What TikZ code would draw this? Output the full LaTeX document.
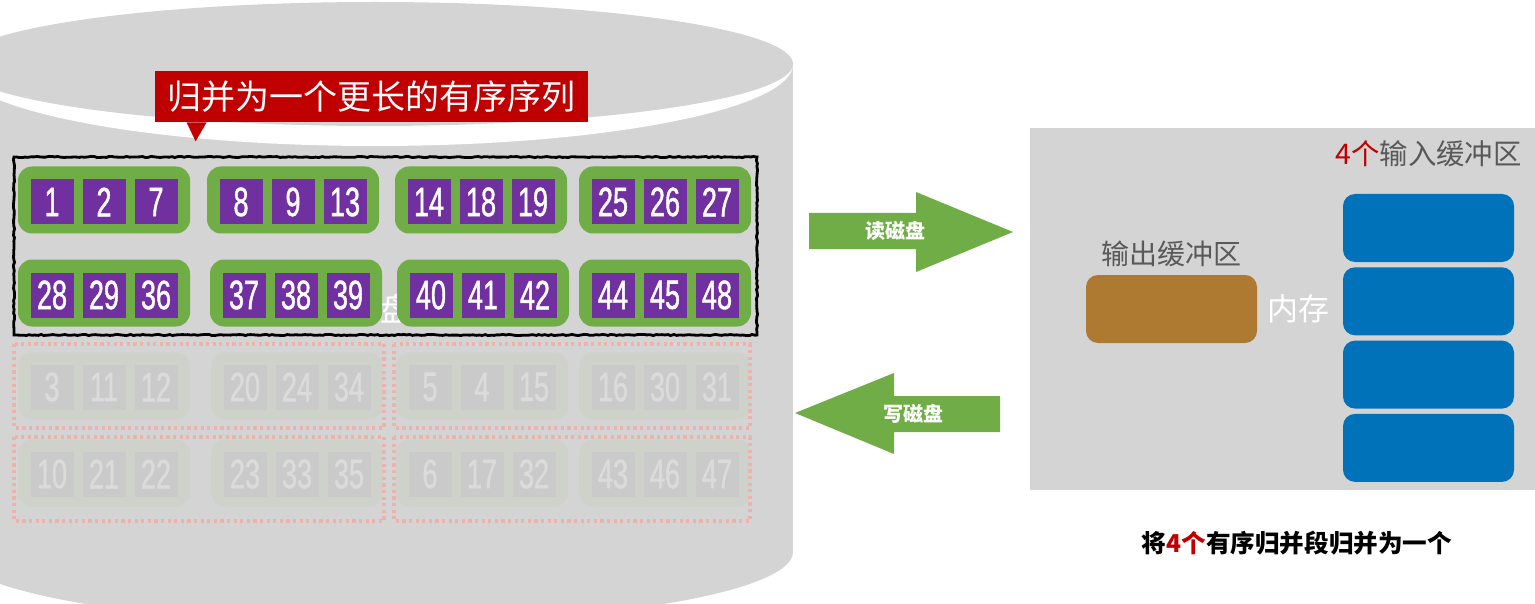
\documentclass[tikz,border=0pt]{standalone}
\usepackage{fontspec}
\setmainfont{Noto Sans CJK SC}
\newfontfamily\numfont[FakeStretch=0.66,FakeBold=1]{Liberation Sans}
\usetikzlibrary{positioning,decorations.pathmorphing}
\definecolor{diskgray}{HTML}{D4D4D4}
\definecolor{rungreen}{HTML}{70AD47}
\definecolor{keypurple}{HTML}{7030A0}
\definecolor{mergered}{HTML}{C00000}
\definecolor{inblue}{HTML}{0072BA}
\definecolor{outbrown}{HTML}{AE7A31}
\definecolor{hintgray}{HTML}{595959}
\definecolor{fadegreen}{HTML}{CFD2CB}
\definecolor{fadebox}{HTML}{CACACA}
\definecolor{fadetext}{HTML}{DBDBDB}
\definecolor{tapepink}{HTML}{ECB3AC}
\tikzset{
  run/.style={fill=rungreen, rounded corners=7pt, minimum width=86pt, minimum height=33.5pt, inner sep=0pt},
  key/.style={fill=keypurple, text=white, minimum width=21.5pt, minimum height=22.5pt, inner sep=0pt, font=\numfont\fontsize{20.5}{20.5}\selectfont},
  oldrun/.style={run, fill=fadegreen},
  oldkey/.style={key, fill=fadebox, text=fadetext},
  tape/.style={draw=tapepink, line width=1.6pt, dash pattern=on 1.6pt off 1.7pt},
  buf/.style={rounded corners=6pt, minimum width=85.5pt, minimum height=34pt, inner sep=0pt},
  hint/.style={text=hintgray, inner sep=0pt},
  ioarrow/.style={fill=rungreen},
  iolabel/.style={text=white, inner sep=0pt, font=\bfseries\fontsize{10}{10}\selectfont},
}

\begin{document}
\begin{tikzpicture}[x=0.5pt,y=-0.5pt]
\clip (0,0) rectangle (1535,604);

% disk
\fill[diskgray] (-43,64) rectangle (793,552);
\fill[diskgray] (375,552) ellipse [x radius=418, y radius=72];
\fill[white] (793,64) arc [start angle=0, end angle=180, x radius=418, y radius=82] -- cycle;
\fill[diskgray] (375,64) ellipse [x radius=418, y radius=62];

% callout
\node[fill=mergered, text=white, minimum width=216.5pt, minimum height=25.5pt, inner sep=0pt,
      font=\fontsize{17}{17}\selectfont] (merge) at (371.5,96.5) {归并为一个更长的有序序列};
\fill[mergered] ([xshift=16pt]merge.south west) -- ([xshift=26pt]merge.south west)
   -- ([xshift=20.5pt,yshift=-9.5pt]merge.south west) -- cycle;

\node[text=white, inner sep=0pt, font=\fontsize{16}{16}\selectfont] (disklbl) at (380,309) {磁盘};

% merged runs
\draw[black, line width=1.4pt, decorate, decoration={random steps, segment length=1.5pt, amplitude=0.3pt}]
  (14,157) rectangle (757,335);
\foreach \gx/\gy/\a/\b/\c [count=\i] in {104/200/1/2/7, 293/200/8/9/13, 481/200/14/18/19, 665/200/25/26/27,
    104/293/28/29/36, 296/293/37/38/39, 483/293/40/41/42, 665/293/44/45/48}{
  \node[run] (run\i) at (\gx,\gy) {};
  \node[key] (run\i a) at (\gx-52,\gy+2) {\a};
  \node[key] (run\i b) at (\gx,\gy+2) {\b};
  \node[key] (run\i c) at (\gx+52,\gy+2) {\c};
}

% runs still on disk
\foreach \gx/\gy/\a/\b/\c [count=\i] in {104/386/3/11/12, 297/386/20/24/34, 482/386/5/4/15, 665/386/16/30/31,
    104/473/10/21/22, 297/473/23/33/35, 482/473/6/17/32, 665/473/43/46/47}{
  \node[oldrun] (old\i) at (\gx,\gy) {};
  \node[oldkey] (old\i a) at (\gx-52,\gy+1) {\a};
  \node[oldkey] (old\i b) at (\gx,\gy+1) {\b};
  \node[oldkey] (old\i c) at (\gx+52,\gy+1) {\c};
}
\draw[tape] (14,344) rectangle (384,428);
\draw[tape] (394,344) rectangle (750,428);
\draw[tape] (14,437) rectangle (384,521);
\draw[tape] (394,437) rectangle (750,521);

% read / write
\fill[ioarrow] (809,213) -- (916,213) -- (916,192) -- (1013,232) -- (916,272) -- (916,249) -- (809,249) -- cycle;
\node[iolabel] (readlbl) at (895,231) {读磁盘};
\fill[ioarrow] (1000,396) -- (894,396) -- (894,373) -- (795,413) -- (894,454) -- (894,432) -- (1000,432) -- cycle;
\node[iolabel] (writelbl) at (913,414) {写磁盘};

% memory
\fill[diskgray] (1030,128) rectangle (1535,490);
\node[buf, fill=outbrown] (outbuf) at (1171.5,309) {};
\node[hint, above=3.5pt of outbuf, font=\fontsize{14}{14}\selectfont] (outlbl) {输出缓冲区};
\node[text=white, inner sep=0pt, right=5pt of outbuf, font=\fontsize{15.5}{15.5}\selectfont] (memlbl) {内存};
\foreach \k in {1,...,4}
  \node[buf, fill=inblue] (in\k) at (1428.5,154.7+73.3*\k) {};
\node[hint, above=13pt of in1, font=\fontsize{14.2}{14.2}\selectfont] (inlbl) {\textcolor{mergered}{4个}输入缓冲区};

\node[inner sep=0pt, font=\bfseries\fontsize{12.3}{12.3}\selectfont] (caption) at (1297,543)
  {将\textcolor{mergered}{4个}有序归并段归并为一个};
\end{tikzpicture}
\end{document}
